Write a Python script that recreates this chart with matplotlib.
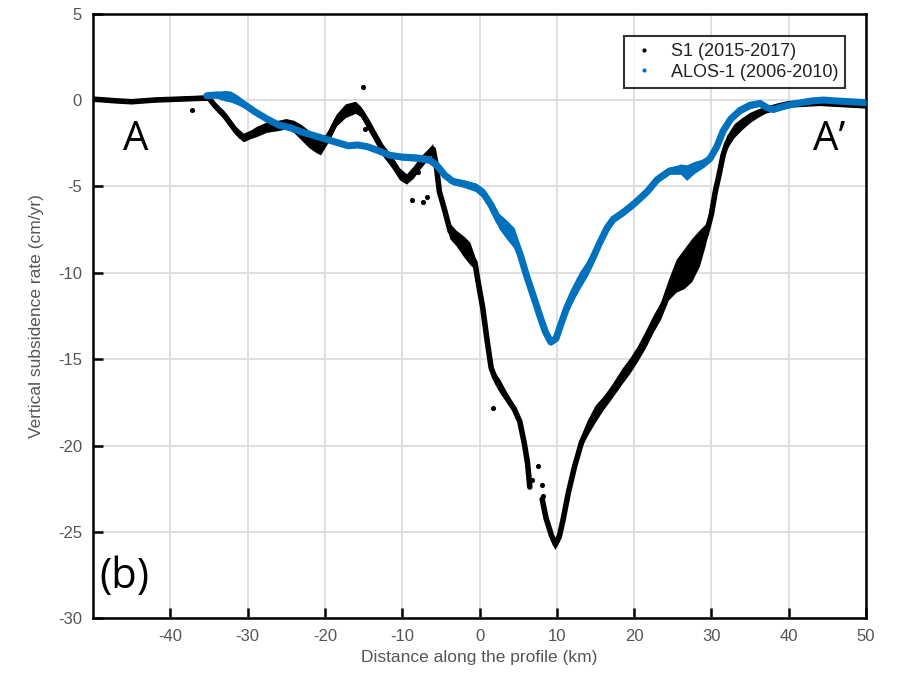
import numpy as np
import matplotlib
matplotlib.use("Agg")
import matplotlib.pyplot as plt
from matplotlib.lines import Line2D

# ================================
# DATA
# ================================

# S1 (2015-2017): profile centre and half band width, NaN = gap
s1_x = [-50, -47, -45, -42, -39, -36, -35, -34.3, -33, -31.5, -30.5, -29.5, -28.8, -27.5,
        -26, -25, -24, -23, -22, -21, -20.5, -19.5, -18.5, -17.3, -16, -15.3, -14.5,
        -13.5, -12.5, -11.3, -10.3, -9.4, -8.5, -7.5, -6.5, -6.0, -5.6, -5.2, -4.5,
        -3.8, -3.0, -2.0, -1.2, -0.6, -0.2, 0.4, 1.0, 1.5, 2.0, 2.7, 3.5, 4.5, 5.2,
        5.8, 6.2, 6.5, 7.2, 8.1, 8.6, 9.3, 9.8, 10.3, 10.8, 11.5, 12.3, 13.2, 14.0,
        15.0, 16.0, 17.0, 18.5, 19.5, 20.5, 21.5, 22.5, 23.5, 24.5, 25.5, 26.5, 27.5,
        28.5, 29.3, 30.0, 30.5, 31.0, 31.5, 32.0, 33.0, 34.0, 35.0, 36.0, 37.0, 38.5,
        40.0, 42.0, 44.0, 46.0, 48.0, 50.0]
s1_y = [0.05, -0.05, -0.1, 0.0, 0.05, 0.1, 0.1, -0.3, -0.9, -1.8, -2.2, -2.0, -1.85, -1.6,
        -1.5, -1.4, -1.55, -1.9, -2.3, -2.6, -2.8, -2.1, -1.2, -0.65, -0.45, -0.7, -1.3,
        -2.1, -2.9, -3.6, -4.3, -4.6, -4.2, -3.6, -3.1, -2.85, -3.8, -5.3, -6.4,
        -7.6, -8.0, -8.5, -8.9, -9.4, -10.5, -12.0, -14.0, -15.5, -16.1, -16.6, -17.2, -17.9, -18.6,
        -19.9, -21.0, -22.4, np.nan, -23.1, -24.2, -25.2, -25.7, -25.3, -24.3, -22.7, -21.2, -19.8, -19.0,
        -18.2, -17.6, -17.0, -16.0, -15.4, -14.7, -13.9, -13.0, -12.2, -11.0, -10.2, -9.8, -9.3,
        -8.6, -7.8, -6.6, -5.3, -4.3, -3.2, -2.5, -1.8, -1.4, -1.05, -0.8, -0.6, -0.4,
        -0.25, -0.2, -0.15, -0.2, -0.25, -0.3]
s1_hw = [0.12, 0.12, 0.12, 0.12, 0.12, 0.15, 0.15, 0.2, 0.25, 0.25, 0.25, 0.25, 0.3, 0.3,
         0.3, 0.3, 0.35, 0.45, 0.5, 0.5, 0.4, 0.35, 0.35, 0.4, 0.35, 0.3, 0.35,
         0.35, 0.35, 0.35, 0.35, 0.3, 0.35, 0.35, 0.3, 0.3, 0.3, 0.35, 0.45,
         0.45, 0.45, 0.6, 0.65, 0.4, 0.25, 0.2, 0.2, 0.3, 0.35, 0.4, 0.3, 0.25, 0.25,
         0.2, 0.2, 0.2, np.nan, 0.25, 0.3, 0.35, 0.35, 0.35, 0.3, 0.3, 0.3, 0.35, 0.45,
         0.5, 0.4, 0.4, 0.45, 0.45, 0.45, 0.5, 0.5, 0.5, 0.6, 0.95, 1.15, 1.25,
         1.05, 0.6, 0.35, 0.35, 0.35, 0.3, 0.4, 0.4, 0.35, 0.3, 0.25, 0.2, 0.2,
         0.2, 0.2, 0.2, 0.2, 0.2, 0.2]

# stray S1 points
s1_dot_x = [-37.2, -31.0, -15.1, -14.8, -8.0, -8.7, -6.8, -7.3, 1.75, 7.6, 8.1, 8.2, 6.8]
s1_dot_y = [-0.6, -2.1, 0.75, -1.7, -4.15, -5.8, -5.6, -5.9, -17.8, -21.2, -22.3, -22.9, -22.0]

# ALOS-1 (2006-2010)
alos_x = [-35.3, -34, -33, -32.2, -31.3, -30.3, -29, -27.5, -26, -24.5, -23, -21.5, -20,
          -18.5, -17, -15.8, -14.5, -13, -11.6, -10, -8.1, -6.5, -5.5, -4.5, -3.5, -2,
          -0.5, 0.5, 1.5, 2.5, 3.5, 4.5, 5.3, 6.1, 7.0, 7.8, 8.5, 9.2, 9.9, 10.5, 11.3,
          12.2, 13.0, 14.0, 14.7, 15.5, 16.5, 17.3, 18.6, 20.0, 21.7, 23.0, 24.6, 26.0,
          26.8, 27.8, 29.0, 29.8, 30.7, 31.5, 32.5, 33.7, 35.0, 36.3, 37.2, 38.0, 39.5,
          41.0, 43.0, 44.5, 46.0, 48.0, 50.0]
alos_y = [0.25, 0.3, 0.25, 0.2, 0.0, -0.3, -0.7, -1.1, -1.45, -1.6, -1.85, -2.05, -2.25,
          -2.45, -2.65, -2.6, -2.7, -2.95, -3.2, -3.3, -3.35, -3.45, -3.8, -4.35, -4.7, -4.85,
          -5.05, -5.4, -6.1, -7.0, -7.5, -8.0, -9.0, -10.2, -11.4, -12.5, -13.4, -14.0, -13.8, -13.0, -12.0,
          -11.1, -10.4, -9.7, -9.1, -8.3, -7.4, -6.9, -6.5, -6.0, -5.3, -4.6, -4.1, -4.0,
          -4.2, -3.9, -3.65, -3.4, -2.7, -1.8, -1.1, -0.6, -0.3, -0.2, -0.45, -0.55, -0.35,
          -0.2, -0.05, 0.0, -0.05, -0.1, -0.15]
alos_hw = [0.1, 0.2, 0.3, 0.32, 0.28, 0.2, 0.15, 0.15, 0.15, 0.15, 0.15, 0.15, 0.15,
           0.15, 0.15, 0.15, 0.15, 0.15, 0.15, 0.18, 0.2, 0.22, 0.2, 0.2, 0.2, 0.22,
           0.25, 0.3, 0.35, 0.45, 0.55, 0.6, 0.45, 0.35, 0.3, 0.3, 0.25, 0.2, 0.2, 0.3, 0.4,
           0.45, 0.5, 0.45, 0.4, 0.3, 0.25, 0.2, 0.2, 0.2, 0.2, 0.2, 0.2, 0.3,
           0.45, 0.35, 0.25, 0.2, 0.2, 0.2, 0.2, 0.2, 0.2, 0.15, 0.15, 0.15, 0.15,
           0.15, 0.15, 0.15, 0.15, 0.15, 0.15]

x_ticks = [-40, -30, -20, -10, 0, 10, 20, 30, 40, 50]
y_ticks = [5, 0, -5, -10, -15, -20, -25, -30]

# ================================
# PLOT
# ================================

blue = "#0072BD"
label_gray = "#555555"
plt.rcParams["font.family"] = ["Liberation Sans Narrow", "Liberation Sans", "DejaVu Sans"]

fig = plt.figure(figsize=(9.04, 6.81), dpi=100)
ax = fig.add_axes([0.103, 0.092, 0.855, 0.888])

sx, sy, sh = np.array(s1_x), np.array(s1_y), np.array(s1_hw)
ax.fill_between(sx, sy - sh, sy + sh, color="black", lw=0, zorder=3)
ax.plot(sx, sy, color="black", lw=4, solid_capstyle="round", solid_joinstyle="round", zorder=3)
ax.scatter(s1_dot_x, s1_dot_y, s=7, color="black", zorder=3)

bx, by, bh = np.array(alos_x), np.array(alos_y), np.array(alos_hw)
ax.fill_between(bx, by - bh, by + bh, color=blue, lw=0, zorder=4)
ax.plot(bx, by, color=blue, lw=5, solid_capstyle="round", solid_joinstyle="round", zorder=4)

ax.set_xlim(-50, 50)
ax.set_ylim(-30, 5)
ax.set_xticks(x_ticks)
ax.set_yticks(y_ticks)
ax.set_xticklabels([str(t) for t in x_ticks])
ax.set_yticklabels([str(t) for t in y_ticks])
ax.grid(True, color="#dcdcdc", lw=1.3, zorder=0)
ax.set_axisbelow(True)
ax.tick_params(direction="in", length=7, width=1.8, colors="black",
               labelcolor=label_gray, labelsize=12, pad=8)
for sp in ax.spines.values():
    sp.set_linewidth(1.8)

ax.set_xlabel("Distance along the profile (km)", fontsize=12.5, color=label_gray, labelpad=4)
ax.set_ylabel("Vertical subsidence rate (cm/yr)", fontsize=12.5, color=label_gray, labelpad=10)

ax.text(-44.5, -2.3, "A", fontsize=29, family=["Open Sans", "DejaVu Sans"],
        ha="center", va="center", zorder=5)
ax.text(45.2, -2.3, "A\u2019", fontsize=29, family=["Open Sans", "DejaVu Sans"],
        ha="center", va="center", zorder=5)
ax.text(-46, -27.6, "(b)", fontsize=30, family=["Open Sans", "DejaVu Sans"],
        ha="center", va="center", zorder=5)

handles = [Line2D([], [], ls="none", marker=".", ms=4, color="black"),
           Line2D([], [], ls="none", marker=".", ms=4, color=blue)]
leg = ax.legend(handles, ["S1 (2015-2017)", "ALOS-1 (2006-2010)"], loc="upper right",
                bbox_to_anchor=(0.985, 0.978), fontsize=13, frameon=True, fancybox=False,
                handletextpad=0.8, handlelength=1.4, borderpad=0.4, labelspacing=0.2)
leg.get_frame().set_edgecolor("black")
leg.get_frame().set_linewidth(1.5)
for t in leg.get_texts():
    t.set_color("#222222")

fig.savefig("out.png", dpi=100)
